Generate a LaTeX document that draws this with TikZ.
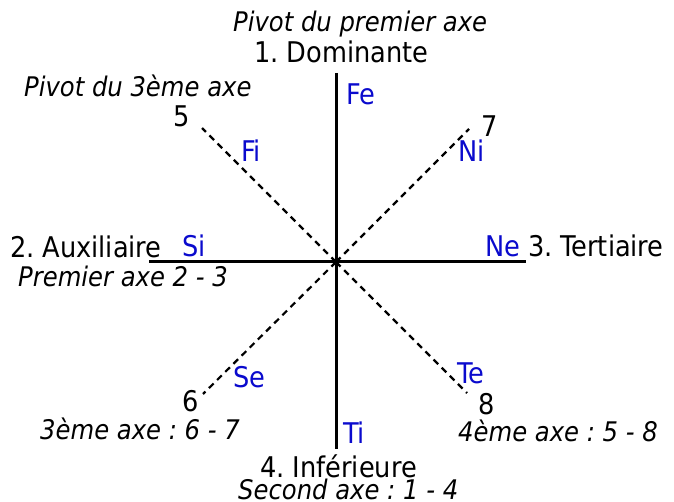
\documentclass[tikz,border=0pt]{standalone}
\usepackage{fontspec}
\setmainfont{DejaVu Sans Condensed}
\definecolor{fnblue}{RGB}{10,10,205}
\tikzset{
  fn/.style={text=fnblue,font=\fontsize{28.5}{33}\selectfont,inner sep=0pt,anchor=base west},
  role/.style={font=\fontsize{28.5}{33}\selectfont,inner sep=0pt,anchor=base west},
  note/.style={font=\itshape\fontsize{27}{31}\selectfont,inner sep=0pt,anchor=base west},
  axis/.style={line width=3pt},
  diag/.style={line width=2.2pt,dash pattern=on 6.5pt off 5pt}
}
\begin{document}
\frenchspacing
\begin{tikzpicture}[x=1pt,y=-1pt]
  \useasboundingbox (0,0) rectangle (674,502);
  \coordinate (c) at (336,262);
  \coordinate (top) at (336,73);
  \coordinate (bot) at (336,449);
  \coordinate (lft) at (149,262);
  \coordinate (rgt) at (526,262);
  \foreach \n/\dx/\dy in {nw/-134/-134,ne/133/-133,sw/-133/132,se/131/131}{
    \coordinate (\n) at ([shift={(\dx,\dy)}]c);
    \draw[diag] (c) -- (\n);
  }
  \draw[axis] (top) -- (bot);
  \draw[axis] (lft) -- (rgt);
  \fill (c) circle (3);
  \foreach \t/\x/\y in {Fe/346/105,Fi/241/162,Ni/458/162,Si/182/257,Ne/485/257,Se/233/387,Te/457/383,Ti/343/443}
    \node[fn] (\t) at (\x,\y) {\t};
  \node[note] (pivot1) at (233,32) {Pivot du premier axe};
  \node[role] (dom) at (254,63) {1. Dominante};
  \node[note] (pivot3) at (24,97) {Pivot du 3ème axe};
  \node[role] (n5) at (173,127) {5};
  \node[role] (n7) at (481,137) {7};
  \node[role] (aux) at (10,258) {2. Auxiliaire};
  \node[role] (ter) at (528,257) {3. Tertiaire};
  \node[note] (axe1) at (18,287) {Premier axe 2 - 3};
  \node[role] (n6) at (182,411) {6};
  \node[role] (n8) at (478,414) {8};
  \node[note] (axe3) at (40,439) {3ème axe : 6 - 7};
  \node[note] (axe4) at (458,441) {4ème axe : 5 - 8};
  \node[role] (inf) at (260,477) {4. Inférieure};
  \node[note] (axe2) at (238,499) {Second axe : 1 - 4};
\end{tikzpicture}
\end{document}
